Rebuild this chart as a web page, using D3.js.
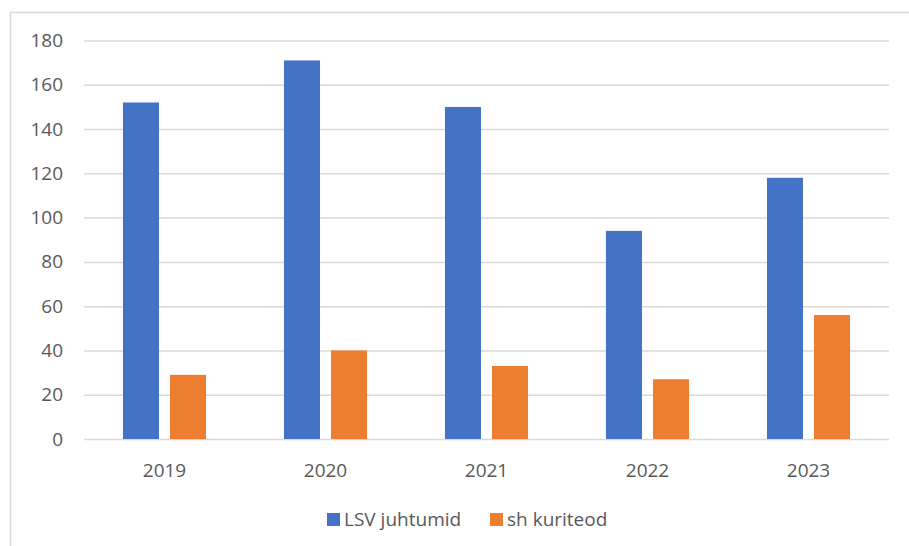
<!DOCTYPE html>
<html>
<head>
<meta charset="utf-8">
<script src="https://cdn.jsdelivr.net/npm/d3@7"></script>
<style>
  html, body { margin: 0; padding: 0; background: #fff; }
  svg { display: block; }
  text { font-family: "Open Sans", sans-serif; fill: #595959; }
</style>
</head>
<body>
<svg id="chart" width="909" height="546"></svg>
<script>
const years = ["2019", "2020", "2021", "2022", "2023"];
const seriesNames = ["LSV juhtumid", "sh kuriteod"];
const lsvJuhtumid = [152, 171, 150, 94, 118];
const shKuriteod = [29, 40, 33, 27, 56];
const yTicks = [0, 20, 40, 60, 80, 100, 120, 140, 160, 180];
const colors = ["#4472C4", "#ED7D31"];

const seriesValues = [lsvJuhtumid, shKuriteod];
const data = years.map((yr, i) => ({ year: yr, values: seriesNames.map((s, j) => ({ key: s, value: seriesValues[j][i] })) }));

const svg = d3.select("#chart");

// outer frame
svg.append("rect")
  .attr("x", 10.5).attr("y", 12.5)
  .attr("width", 1000).attr("height", 1000)
  .attr("fill", "none").attr("stroke", "#d9d9d9").attr("stroke-width", 1.5);

const plotLeft = 84, plotRight = 889, plotTop = 40.5, plotBottom = 439;

const x0 = d3.scaleBand().domain(years).range([plotLeft, plotRight]).paddingInner(0.484).paddingOuter(0.242);
const x1 = d3.scaleBand().domain(seriesNames).range([0, x0.bandwidth()]).paddingInner(0.234).paddingOuter(0);
const y = d3.scaleLinear().domain([0, 180]).range([plotBottom, plotTop]);

// gridlines + y labels via axis
const yAxis = d3.axisLeft(y).tickValues(yTicks).tickSize(-(plotRight - plotLeft)).tickPadding(20);
const gy = svg.append("g").attr("transform", `translate(${plotLeft},0)`).call(yAxis);
gy.select(".domain").remove();
gy.selectAll(".tick line").attr("stroke", "#d9d9d9").attr("stroke-width", 1.5);
gy.selectAll(".tick text")
  .attr("x", 63 - plotLeft).attr("dy", "0.32em")
  .style("font-size", "19px").style("fill", "#595959").style("font-family", "'Open Sans', sans-serif");

// bars
const groups = svg.append("g").selectAll("g").data(data).join("g")
  .attr("transform", d => `translate(${x0(d.year)},0)`);
groups.selectAll("rect").data(d => d.values).join("rect")
  .attr("x", d => x1(d.key))
  .attr("y", d => y(d.value))
  .attr("width", x1.bandwidth())
  .attr("height", d => y(0) - y(d.value))
  .attr("fill", (d, i) => colors[i]);

// x axis labels
const xAxis = d3.axisBottom(x0).tickSize(0).tickPadding(0);
const gx = svg.append("g").attr("transform", `translate(0,${plotBottom})`).call(xAxis);
gx.select(".domain").remove();
gx.selectAll(".tick text").attr("y", 38).attr("dy", 0)
  .style("font-size", "19px").style("fill", "#595959").style("font-family", "'Open Sans', sans-serif");

// legend
const legendItems = [
  { name: seriesNames[0], color: colors[0], x: 327 },
  { name: seriesNames[1], color: colors[1], x: 490 }
];
const lg = svg.append("g");
legendItems.forEach(it => {
  lg.append("rect").attr("x", it.x).attr("y", 513).attr("width", 13).attr("height", 13).attr("fill", it.color);
  lg.append("text").attr("x", it.x + 17).attr("y", 526).style("font-size", "19px").text(it.name);
});
</script>
</body>
</html>
